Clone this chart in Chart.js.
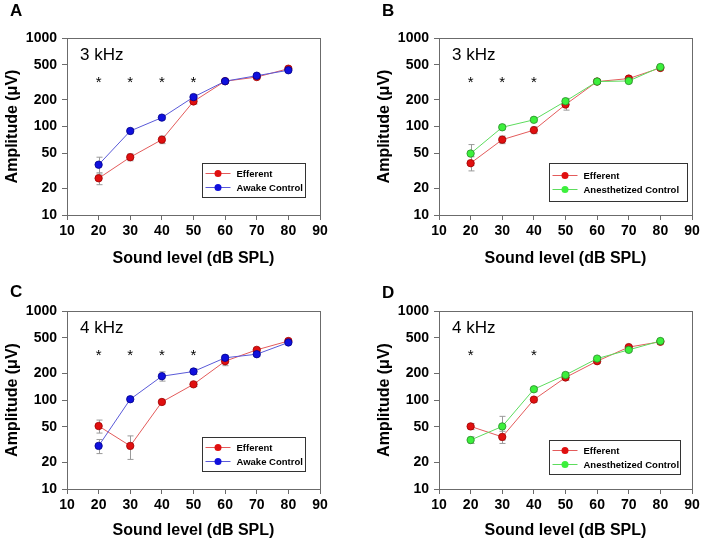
<!DOCTYPE html>
<html>
<head>
<meta charset="utf-8">
<script src="https://cdn.jsdelivr.net/npm/chart.js@4/dist/chart.umd.min.js"></script>
<style>
body { margin: 0; background: #fff; width: 703px; height: 544px; position: relative; overflow: hidden; }
canvas { position: absolute; }
</style>
</head>
<body>
<canvas id="chartA" width="352" height="272" style="left:0;top:0"></canvas>
<canvas id="chartB" width="331" height="272" style="left:372px;top:0"></canvas>
<canvas id="chartC" width="352" height="272" style="left:0;top:272px"></canvas>
<canvas id="chartD" width="331" height="272" style="left:372px;top:272px"></canvas>
<script>
const soundLevels = [20, 30, 40, 50, 60, 70, 80];
const yTicks = [10, 20, 50, 100, 200, 500, 1000];

// A: 3 kHz, efferent vs awake
const effA = [26, 45, 71, 192, 325, 362, 450];
const effErrA = [4, 4, 7, 12, 15, 15, 20];
const awakeA = [37, 89, 126, 215, 325, 375, 432];
const awakeErrA = [8, 6, 6, 15, 15, 15, 15];
const starsA = [20, 30, 40, 50];

// B: 3 kHz, efferent vs anesthetized
const effB = [38.5, 71, 91, 177, 322, 348, 459];
const effErrB = [7, 7, 8, 24, 15, 15, 20];
const anesB = [49.5, 98, 119, 193, 322, 327, 470];
const anesErrB = [13, 6, 6, 15, 15, 15, 15];
const starsB = [20, 30, 40];

// C: 4 kHz, efferent vs awake
const effC = [51, 30.5, 95, 150, 273, 366, 460];
const effErrC = [8.5, 9, 5, 8, 30, 15, 20];
const awakeC = [30.5, 102, 185, 209, 298, 327, 443];
const awakeErrC = [5.5, 6, 22, 15, 20, 15, 15];
const starsC = [20, 30, 40, 50];

// D: 4 kHz, efferent vs anesthetized
const effD = [50.5, 38.5, 101, 179, 273, 393, 451];
const effErrD = [4, 6, 6, 12, 15, 15, 20];
const anesD = [35.5, 50.5, 132, 191, 292, 366, 460];
const anesErrD = [3, 15, 8, 12, 15, 15, 15];
const starsD = [20, 40];

const FONT = "'Liberation Sans', Arial, sans-serif";
const starLevel = 350;

const panelDeco = {
    id: "panelDeco",
    beforeDatasetsDraw(chart, args, opts) {
        const ctx = chart.ctx;
        const xs = chart.scales.x, ys = chart.scales.y;
        ctx.save();
        ctx.strokeStyle = "#9a9a9a";
        ctx.lineWidth = 1;
        opts.errors.forEach((errs, i) => {
            const vals = opts.values[i];
            errs.forEach((e, j) => {
                const x = Math.round(xs.getPixelForValue(soundLevels[j])) + 0.5;
                const yt = ys.getPixelForValue(vals[j] + e);
                const yb = ys.getPixelForValue(vals[j] - e);
                ctx.beginPath();
                ctx.moveTo(x, yt); ctx.lineTo(x, yb);
                ctx.moveTo(x - 3, yt); ctx.lineTo(x + 3, yt);
                ctx.moveTo(x - 3, yb); ctx.lineTo(x + 3, yb);
                ctx.stroke();
            });
        });
        ctx.restore();
    },
    afterDatasetsDraw(chart, args, opts) {
        const ctx = chart.ctx;
        const a = chart.chartArea;
        const xs = chart.scales.x, ys = chart.scales.y;
        ctx.save();
        // frame
        ctx.strokeStyle = "#6b6b6b";
        ctx.lineWidth = 1;
        ctx.strokeRect(Math.round(a.left) + 0.5, Math.round(a.top) + 0.5, Math.round(a.right - a.left), Math.round(a.bottom - a.top));
        // panel letter
        ctx.fillStyle = "#000";
        ctx.font = "bold 17px " + FONT;
        ctx.textBaseline = "middle";
        ctx.textAlign = "left";
        ctx.fillText(opts.letter, 10, opts.letterY);
        // frequency
        ctx.font = "17px " + FONT;
        ctx.fillText(opts.freq, a.left + 13, a.top + 17);
        // significance stars
        ctx.font = "15px " + FONT;
        ctx.textAlign = "center";
        ctx.textBaseline = "alphabetic";
        opts.stars.forEach(s => {
            ctx.fillText("*", xs.getPixelForValue(s), ys.getPixelForValue(starLevel) + 8.5);
        });
        // legend
        ctx.font = "bold 9.5px " + FONT;
        const sets = chart.data.datasets;
        const w = opts.legendW, h = opts.legendH;
        const bx = Math.round(a.right - opts.legendRight - w) + 0.5;
        const by = Math.round(a.bottom - opts.legendBottom - h) + 0.5;
        ctx.fillStyle = "#fff";
        ctx.fillRect(bx, by, w, h);
        ctx.strokeStyle = "#333";
        ctx.strokeRect(bx, by, w, h);
        ctx.textAlign = "left";
        ctx.textBaseline = "middle";
        sets.forEach((d, i) => {
            const ry = by + h / 2 + (i === 0 ? -7 : 7);
            ctx.strokeStyle = d.borderColor;
            ctx.beginPath();
            ctx.moveTo(bx + 3, ry); ctx.lineTo(bx + 28, ry);
            ctx.stroke();
            ctx.fillStyle = d.pointBackgroundColor;
            ctx.beginPath();
            ctx.arc(bx + 15.5, ry, 3.5, 0, Math.PI * 2);
            ctx.fill();
            ctx.fillStyle = "#000";
            ctx.fillText(d.label, bx + 34, ry + 0.5);
        });
        ctx.restore();
    }
};

const red = { line: "#e35b5b", fill: "#e01010", edge: "#a00000" };
const blue = { line: "#5a5ad8", fill: "#1010dd", edge: "#00008a" };
const green = { line: "#5ddc5d", fill: "#3cf03c", edge: "#2a8a2a" };

function series(label, vals, col, order) {
    return {
        label: label,
        data: soundLevels.map((x, i) => ({ x: x, y: vals[i] })),
        borderColor: col.line,
        borderWidth: 1,
        pointBackgroundColor: col.fill,
        pointBorderColor: col.edge,
        pointBorderWidth: 0.8,
        pointRadius: 3.7,
        order: order
    };
}

function makePanel(id, p) {
    const tickFont = { family: FONT, size: 14, weight: "bold" };
    const titleFont = { family: FONT, size: 16, weight: "bold" };
    new Chart(document.getElementById(id), {
        type: "line",
        data: {
            datasets: [
                series("Efferent", p.eff, red, 1),
                series(p.ctrlLabel, p.ctrl, p.ctrlCol, 0)
            ]
        },
        options: {
            responsive: false,
            animation: false,
            layout: { padding: { top: p.top, right: p.right, left: 0, bottom: 0 } },
            plugins: {
                legend: { display: false },
                tooltip: { enabled: false },
                panelDeco: {
                    letter: p.letter, letterY: p.letterY, freq: p.freq, stars: p.stars,
                    values: [p.eff, p.ctrl], errors: [p.effErr, p.ctrlErr],
                    legendW: p.legendW, legendH: p.legendH, legendRight: p.legendRight, legendBottom: p.legendBottom
                }
            },
            scales: {
                x: {
                    type: "linear", min: 10, max: 90,
                    afterFit: s => { s.height = p.xHeight; },
                    ticks: { stepSize: 10, color: "#000", font: tickFont, padding: 3 },
                    grid: { drawOnChartArea: false, tickLength: 5, color: "#6b6b6b" },
                    border: { color: "#6b6b6b" },
                    title: { display: true, text: "Sound level (dB SPL)", color: "#000", font: titleFont, padding: { top: 0, bottom: 4 } }
                },
                y: {
                    type: "logarithmic", min: 10, max: 1000,
                    afterBuildTicks: s => { s.ticks = yTicks.map(v => ({ value: v })); },
                    afterFit: s => { s.width = 67; },
                    ticks: { color: "#000", font: tickFont, padding: 5, autoSkip: false, callback: v => String(v) },
                    grid: { drawOnChartArea: false, tickLength: 5, color: "#6b6b6b" },
                    border: { color: "#6b6b6b" },
                    title: { display: true, text: "Amplitude (\u03bcV)", color: "#000", font: titleFont, padding: { top: 3, bottom: 0 } }
                }
            }
        },
        plugins: [panelDeco]
    });
}

makePanel("chartA", {
    letter: "A", letterY: 11, freq: "3 kHz", stars: starsA, top: 38, right: 32, xHeight: 57,
    eff: effA, effErr: effErrA, ctrl: awakeA, ctrlErr: awakeErrA, ctrlLabel: "Awake Control", ctrlCol: blue,
    legendW: 103, legendH: 34, legendRight: 15, legendBottom: 18
});
makePanel("chartB", {
    letter: "B", letterY: 11, freq: "3 kHz", stars: starsB, top: 38, right: 11, xHeight: 57,
    eff: effB, effErr: effErrB, ctrl: anesB, ctrlErr: anesErrB, ctrlLabel: "Anesthetized Control", ctrlCol: green,
    legendW: 138, legendH: 38, legendRight: 5, legendBottom: 14
});
makePanel("chartC", {
    letter: "C", letterY: 20, freq: "4 kHz", stars: starsC, top: 39, right: 32, xHeight: 55,
    eff: effC, effErr: effErrC, ctrl: awakeC, ctrlErr: awakeErrC, ctrlLabel: "Awake Control", ctrlCol: blue,
    legendW: 103, legendH: 34, legendRight: 15, legendBottom: 18
});
makePanel("chartD", {
    letter: "D", letterY: 21, freq: "4 kHz", stars: starsD, top: 39, right: 11, xHeight: 55,
    eff: effD, effErr: effErrD, ctrl: anesD, ctrlErr: anesErrD, ctrlLabel: "Anesthetized Control", ctrlCol: green,
    legendW: 131, legendH: 34, legendRight: 12, legendBottom: 15
});
</script>
</body>
</html>
